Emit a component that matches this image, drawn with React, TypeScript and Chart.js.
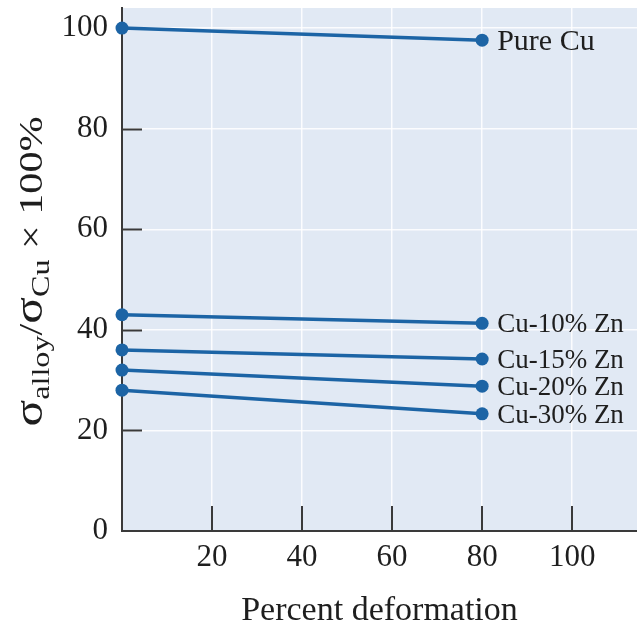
import React, { useEffect, useRef } from 'react';
import { Chart, registerables } from 'chart.js';

Chart.register(...registerables);

// Percent cold work at which the ratio was measured
const deformation = [0, 80];

// Strength ratio (alloy / pure copper) in percent
const pureCu = [100, 97.6];
const cu10Zn = [43, 41.3];
const cu15Zn = [36, 34.2];
const cu20Zn = [32, 28.8];
const cu30Zn = [28, 23.3];

const seriesNames = ['Pure Cu', 'Cu-10% Zn', 'Cu-15% Zn', 'Cu-20% Zn', 'Cu-30% Zn'];
const seriesValues = [pureCu, cu10Zn, cu15Zn, cu20Zn, cu30Zn];

const xTickValues = [20, 40, 60, 80, 100];
const yTickValues = [0, 20, 40, 60, 80, 100];

const LINE = '#1c64a5';
const FIELD = '#e1e9f4';
const AXIS = '#3a3a3a';
const INK = '#1e1e1e';
const SERIF = '"Liberation Serif", "Times New Roman", serif';

// light blue plotting field behind everything
const fieldPlugin = {
  id: 'field',
  beforeDraw(chart: any) {
    const { ctx, chartArea: a } = chart;
    ctx.save();
    ctx.fillStyle = FIELD;
    ctx.fillRect(a.left, a.top, a.right - a.left, a.bottom - a.top);
    ctx.restore();
  },
};

// short tick marks pointing into the plot from both axes
const innerTicksPlugin = {
  id: 'innerTicks',
  beforeDatasetsDraw(chart: any) {
    const { ctx, chartArea: a, scales } = chart;
    ctx.save();
    ctx.strokeStyle = AXIS;
    ctx.lineWidth = 2;
    ctx.beginPath();
    yTickValues.forEach((v) => {
      if (v === 0) return;
      const y = Math.round(scales.y.getPixelForValue(v)) + 0.5;
      ctx.moveTo(a.left, y);
      ctx.lineTo(a.left + 20, y);
    });
    xTickValues.forEach((v) => {
      const x = Math.round(scales.x.getPixelForValue(v));
      ctx.moveTo(x, a.bottom);
      ctx.lineTo(x, a.bottom - 25);
    });
    ctx.stroke();
    ctx.restore();
  },
};

// alloy names written just right of each line's last point
const endLabelPlugin = {
  id: 'endLabels',
  afterDatasetsDraw(chart: any) {
    const { ctx } = chart;
    ctx.save();
    ctx.fillStyle = INK;
    ctx.textAlign = 'left';
    ctx.textBaseline = 'middle';
    chart.data.datasets.forEach((ds: any, i: number) => {
      const meta = chart.getDatasetMeta(i);
      const pt = meta.data[meta.data.length - 1];
      ctx.font = `${i === 0 ? 30 : 27}px ${SERIF}`;
      ctx.fillText(ds.label, pt.x + 15, pt.y + 2);
    });
    ctx.restore();
  },
};

// rotated y title with subscripts: σ_alloy/σ_Cu × 100%
const yTitlePlugin = {
  id: 'yTitle',
  afterDraw(chart: any) {
    const { ctx, chartArea: a } = chart;
    const pieces = [
      { t: 'σ', size: 40, dy: 0 },
      { t: 'alloy', size: 26, dy: 7 },
      { t: '/', size: 34, dy: 0 },
      { t: 'σ', size: 40, dy: 0 },
      { t: 'Cu', size: 26, dy: 7 },
      { t: ' × 100%', size: 34, dy: 0 },
    ];
    ctx.save();
    let total = 0;
    const widths = pieces.map((p) => {
      ctx.font = `${p.size}px ${SERIF}`;
      const w = ctx.measureText(p.t).width;
      total += w;
      return w;
    });
    const length = 310;
    const k = length / total;
    const cy = (a.top + a.bottom) / 2 + 2;
    ctx.translate(42, cy);
    ctx.rotate(-Math.PI / 2);
    ctx.scale(k, 1);
    ctx.fillStyle = INK;
    ctx.textBaseline = 'alphabetic';
    ctx.textAlign = 'left';
    let x = -total / 2;
    pieces.forEach((p, i) => {
      ctx.font = `${p.size}px ${SERIF}`;
      ctx.fillText(p.t, x, p.dy);
      x += widths[i];
    });
    ctx.restore();
  },
};

export default function App() {
  const canvasRef = useRef<HTMLCanvasElement | null>(null);

  useEffect(() => {
    document.body.style.margin = '0';
    const canvas = canvasRef.current;
    if (!canvas) return;

    const chart = new Chart(canvas, {
      type: 'line',
      data: {
        datasets: seriesValues.map((vals, i) => ({
          label: seriesNames[i],
          data: deformation.map((d, j) => ({ x: d, y: vals[j] })),
          borderColor: LINE,
          backgroundColor: LINE,
          borderWidth: 3.5,
          pointRadius: 6.5,
          pointBorderWidth: 0,
          pointBackgroundColor: LINE,
          fill: false,
          clip: false,
        })),
      },
      options: {
        animation: false,
        responsive: false,
        layout: { autoPadding: false, padding: { left: 0, right: 0, top: 8, bottom: 0 } },
        plugins: {
          legend: { display: false },
          tooltip: { enabled: false },
        },
        scales: {
          x: {
            type: 'linear',
            min: 0,
            max: 114.4,
            afterBuildTicks: (scale: any) => {
              scale.ticks = xTickValues.map((v) => ({ value: v }));
            },
            afterFit: (scale: any) => {
              scale.height = 100;
              scale.paddingLeft = 0;
              scale.paddingRight = 0;
            },
            grid: {
              color: 'rgba(255,255,255,0.85)',
              lineWidth: 1.5,
              drawTicks: false,
            },
            border: { display: true, color: AXIS, width: 2 },
            ticks: {
              padding: 8,
              color: INK,
              font: { family: SERIF, size: 31 },
              maxRotation: 0,
            },
            title: {
              display: true,
              text: 'Percent deformation',
              color: INK,
              font: { family: SERIF, size: 34 },
              padding: { top: 0, bottom: 0 },
            },
          },
          y: {
            type: 'linear',
            min: 0,
            max: 104,
            afterBuildTicks: (scale: any) => {
              scale.ticks = yTickValues.map((v) => ({ value: v }));
            },
            afterFit: (scale: any) => {
              scale.width = 122;
              scale.paddingTop = 0;
              scale.paddingBottom = 0;
            },
            grid: {
              color: 'rgba(255,255,255,0.85)',
              lineWidth: 1.5,
              drawTicks: false,
            },
            border: { display: true, color: AXIS, width: 2 },
            ticks: {
              padding: 14,
              color: INK,
              font: { family: SERIF, size: 31 },
            },
          },
        },
      },
      plugins: [fieldPlugin, innerTicksPlugin, endLabelPlugin, yTitlePlugin],
    } as any);

    return () => chart.destroy();
  }, []);

  return (
    <canvas
      ref={canvasRef}
      width={637}
      height={631}
      style={{ display: 'block', width: 637, height: 631 }}
    />
  );
}
